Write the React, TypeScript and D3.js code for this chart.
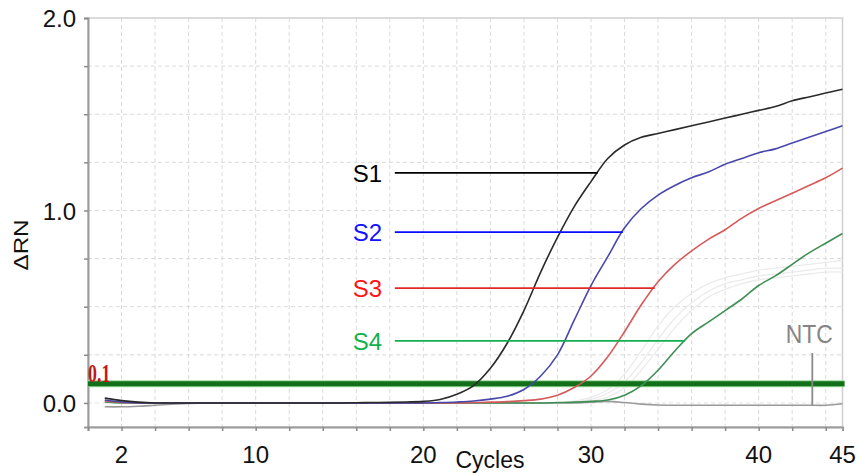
import { useEffect, useRef } from 'react';
import * as d3 from 'd3';

const cycles = d3.range(1, 46);

const s1 = [0.025, 0.012, 0.004, 0, 0, 0, 0, 0, 0, 0, 0, 0, 0, 0, 0, 0.001, 0.002, 0.003, 0.005, 0.008, 0.018, 0.045, 0.09, 0.18, 0.31, 0.48, 0.68, 0.86, 1.02, 1.15, 1.27, 1.34, 1.38, 1.40, 1.42, 1.44, 1.46, 1.48, 1.50, 1.52, 1.54, 1.57, 1.59, 1.61, 1.63];
const s2 = [0.015, 0.005, 0, 0, 0, 0, 0, 0, 0, 0, 0, 0, 0, 0, 0, 0, 0, 0, 0, 0, 0.002, 0.005, 0.01, 0.02, 0.035, 0.07, 0.14, 0.25, 0.43, 0.61, 0.76, 0.91, 1.01, 1.08, 1.13, 1.17, 1.20, 1.24, 1.27, 1.30, 1.32, 1.35, 1.38, 1.41, 1.44];
const s3 = [0.01, 0.003, 0, 0, 0, 0, 0, 0, 0, 0, 0, 0, 0, 0, 0, 0, 0, 0, 0, 0, 0, 0, 0.002, 0.004, 0.007, 0.012, 0.02, 0.04, 0.08, 0.14, 0.24, 0.37, 0.51, 0.63, 0.72, 0.79, 0.85, 0.90, 0.96, 1.01, 1.05, 1.09, 1.13, 1.17, 1.22];
const s4 = [0.005, 0, 0, 0, 0, 0, 0, 0, 0, 0, 0, 0, 0, 0, 0, 0, 0, 0, 0, 0, 0, 0, 0, 0, 0, 0, 0, 0.002, 0.004, 0.008, 0.015, 0.04, 0.09, 0.17, 0.27, 0.36, 0.42, 0.48, 0.54, 0.61, 0.66, 0.72, 0.78, 0.83, 0.88];
const ntc = [-0.02, -0.02, -0.017, -0.012, -0.007, -0.003, 0, 0, 0, 0, 0, 0, 0, 0, 0, 0, 0, 0, 0, 0, 0, 0, 0, 0, 0, 0, 0, 0, 0, 0.004, 0.008, 0.002, -0.006, -0.011, -0.012, -0.012, -0.012, -0.012, -0.012, -0.012, -0.012, -0.012, -0.012, -0.012, -0.004];

// faint replicate traces behind S3/S4
const faint1 = [0, 0, 0, 0, 0, 0, 0, 0, 0, 0, 0, 0, 0, 0, 0, 0, 0, 0, 0, 0, 0, 0, 0, 0, 0, 0, 0, 0, 0.01, 0.03, 0.07, 0.15, 0.27, 0.40, 0.50, 0.57, 0.62, 0.65, 0.67, 0.69, 0.70, 0.71, 0.72, 0.73, 0.74];
const faint2 = [0, 0, 0, 0, 0, 0, 0, 0, 0, 0, 0, 0, 0, 0, 0, 0, 0, 0, 0, 0, 0, 0, 0, 0, 0, 0, 0, 0, 0.005, 0.02, 0.05, 0.11, 0.21, 0.33, 0.44, 0.52, 0.58, 0.62, 0.64, 0.66, 0.67, 0.68, 0.69, 0.70, 0.70];
const faint3 = [0, 0, 0, 0, 0, 0, 0, 0, 0, 0, 0, 0, 0, 0, 0, 0, 0, 0, 0, 0, 0, 0, 0, 0, 0, 0, 0, 0, 0, 0.01, 0.03, 0.08, 0.17, 0.28, 0.39, 0.48, 0.55, 0.59, 0.62, 0.64, 0.65, 0.66, 0.67, 0.68, 0.68];

const labels = ['S1', 'S2', 'S3', 'S4'];
const labelLevels = [1.195, 0.888, 0.597, 0.322];
const labelEnds = [30.4, 31.9, 33.8, 35.6];
const labelStart = 18.3;
const curveColors = ['#2a2a2a', '#4848ac', '#d65a5a', '#3f8f55'];
const labelColors = ['#000000', '#0a0aff', '#e02a2a', '#12b050'];
const textColors = ['#000000', '#1212ff', '#ff1414', '#12b050'];

const xTickLabels = [2, 10, 20, 30, 40, 45];
const yTickLabels = [0, 1, 2];
const threshold = 0.1;
const ntcCycle = 43.2;

export default function App() {
  const ref = useRef<SVGSVGElement>(null);

  useEffect(() => {
    const svg = d3.select(ref.current);
    svg.selectAll('*').remove();

    const x = d3.scaleLinear().domain([0, 45]).range([88, 842.5]);
    const y = d3.scaleLinear().domain([-0.125, 2]).range([427, 18]);
    const font = "'Liberation Sans', Arial, sans-serif";

    // grid
    const grid = svg.append('g');
    grid.selectAll('.vg').data(d3.range(2, 45, 2)).enter().append('line')
      .attr('x1', d => x(d)).attr('x2', d => x(d)).attr('y1', y(2)).attr('y2', y(-0.125))
      .style('stroke', '#dadada').style('stroke-dasharray', '4,3').style('stroke-width', 1);
    grid.selectAll('.hg').data(d3.range(0.25, 2, 0.25)).enter().append('line')
      .attr('x1', x(0)).attr('x2', x(45)).attr('y1', d => y(d)).attr('y2', d => y(d))
      .style('stroke', '#dadada').style('stroke-dasharray', '4,3').style('stroke-width', 1);
    grid.append('line').attr('x1', x(0)).attr('x2', x(45)).attr('y1', y(0)).attr('y2', y(0))
      .style('stroke', '#e2e2e2').style('stroke-dasharray', '4,3');

    // frame
    svg.append('rect').attr('x', x(0)).attr('y', y(2)).attr('width', x(45) - x(0)).attr('height', y(-0.125) - y(2))
      .style('fill', 'none').style('stroke', '#cfcfcf').style('stroke-width', 1.5);

    // axes
    const yAxis = svg.append('g').attr('transform', `translate(${x(0)},0)`)
      .call(d3.axisLeft(y).tickValues(d3.range(0, 2.01, 0.25)).tickSize(4).tickFormat(() => ''));
    const xAxis = svg.append('g').attr('transform', `translate(0,${y(-0.125)})`)
      .call(d3.axisBottom(x).tickValues(d3.range(0, 45, 2)).tickSize(4).tickFormat(() => ''));
    [yAxis, xAxis].forEach(a => {
      a.select('.domain').style('stroke', '#9a9a9a').style('stroke-width', 2);
      a.selectAll('.tick line').style('stroke', '#8a8a8a').style('stroke-width', 1.5);
    });

    svg.selectAll('.xl').data(xTickLabels).enter().append('text')
      .attr('x', d => x(d)).attr('y', 463).attr('text-anchor', 'middle')
      .style('font-family', font).style('font-size', '24px').style('fill', '#111')
      .text(d => d);
    svg.selectAll('.yl').data(yTickLabels).enter().append('text')
      .attr('x', 76).attr('y', d => y(d)).attr('dy', '0.38em').attr('text-anchor', 'end')
      .style('font-family', font).style('font-size', '24px').style('fill', '#111')
      .text(d => d.toFixed(1));

    svg.append('text').attr('x', 490).attr('y', 468).attr('text-anchor', 'middle')
      .style('font-family', font).style('font-size', '23px').style('fill', '#111').text('Cycles');
    svg.append('text').attr('transform', 'translate(28,245) rotate(-90) scale(1.05,0.85)').attr('text-anchor', 'middle')
      .style('font-family', font).style('font-size', '23px').style('fill', '#111').text('ΔRN');

    const line = d3.line<number>().x((_, i) => x(cycles[i])).y(d => y(d)).curve(d3.curveCatmullRom.alpha(0.5));

    [faint3, faint2, faint1].forEach(s => {
      svg.append('path').attr('d', line(s)).style('fill', 'none').style('stroke', '#ebebeb').style('stroke-width', 1.3);
    });

    // threshold
    svg.append('line').attr('x1', x(0)).attr('x2', x(45) + 2).attr('y1', y(threshold)).attr('y2', y(threshold))
      .style('stroke', '#9ad89a').style('stroke-width', 7);
    svg.append('line').attr('x1', x(0)).attr('x2', x(45) + 2).attr('y1', y(threshold)).attr('y2', y(threshold))
      .style('stroke', '#12701a').style('stroke-width', 5);
    svg.append('text').attr('transform', `translate(${x(0)},${y(threshold) - 2}) scale(0.85,1.15)`)
      .style('font-family', "'Liberation Serif', 'DejaVu Serif', serif").style('font-size', '21px')
      .style('font-weight', 'bold').style('fill', '#c01818').text('0.1');

    svg.append('path').attr('d', line(ntc)).style('fill', 'none').style('stroke', '#9a9a9a').style('stroke-width', 1.6);
    [s4, s3, s2, s1].forEach((s, i) => {
      svg.append('path').attr('d', line(s)).style('fill', 'none')
        .style('stroke', curveColors[3 - i]).style('stroke-width', 1.6);
    });

    // sample labels
    labels.forEach((l, i) => {
      svg.append('line').attr('x1', x(labelStart)).attr('x2', x(labelEnds[i]))
        .attr('y1', y(labelLevels[i])).attr('y2', y(labelLevels[i]))
        .style('stroke', labelColors[i]).style('stroke-width', 1.8);
      svg.append('text').attr('x', 382).attr('y', y(labelLevels[i])).attr('dy', '0.36em').attr('text-anchor', 'end')
        .style('font-family', font).style('font-size', '24px').style('fill', textColors[i]).text(l);
    });

    svg.append('line').attr('x1', x(ntcCycle)).attr('x2', x(ntcCycle)).attr('y1', 353).attr('y2', y(-0.012))
      .style('stroke', '#8a8a8a').style('stroke-width', 1.8);
    svg.append('text').attr('transform', `translate(${x(ntcCycle) - 3},343) scale(0.88,1)`).attr('text-anchor', 'middle')
      .style('font-family', font).style('font-size', '26px').style('fill', '#858585').text('NTC');
  }, []);

  return (
    <div style={{ position: 'fixed', left: 0, top: 0, width: 859, height: 473, background: '#fff' }}>
      <svg ref={ref} width={859} height={473} />
    </div>
  );
}
